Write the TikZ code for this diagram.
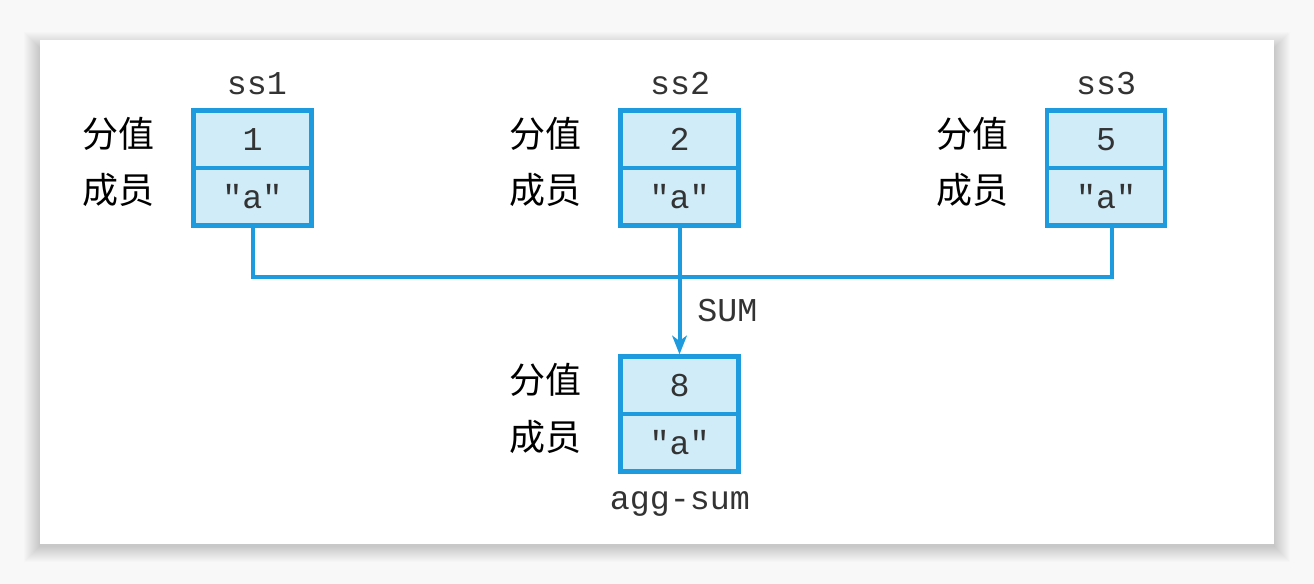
\documentclass[tikz,border=0pt]{standalone}
\usepackage{fontspec}
\setmonofont{Liberation Mono}
\newfontfamily\cjk{Noto Sans CJK SC}
\usetikzlibrary{arrows.meta}
\definecolor{boxblue}{HTML}{1D9BDE}
\definecolor{boxfill}{HTML}{D0ECF9}
\definecolor{txt}{HTML}{333333}
\definecolor{bg}{HTML}{F8F8F8}
\tikzset{
  cell/.style={draw=boxblue, fill=boxfill, line width=3.4pt, minimum width=88.5pt,
    minimum height=43pt, inner sep=0pt, font=\ttfamily\fontsize{25}{25}\selectfont, text=txt},
  lbl/.style={font=\cjk\fontsize{27}{27}\selectfont, text=black, inner sep=0pt},
  nm/.style={font=\ttfamily\fontsize{25}{25}\selectfont, text=txt, inner sep=0pt, anchor=base},
  conn/.style={draw=boxblue, line width=3pt},
  shade layer/.style={fill=black, fill opacity=0.012},
}
\begin{document}
\begin{tikzpicture}[x=0.75pt,y=-0.75pt]
\useasboundingbox (0,0) rectangle (1314,584);
\fill[bg] (0,0) rectangle (1314,584);
\foreach \i in {1,...,16} {
  \fill[shade layer] (40-\i,40-\i+8) rectangle (1274+\i,544+\i+2);
}
\fill[white] (40,40) rectangle (1274,544);

% ss1
\node[cell] (s1t) at (252.5,139.25) {1};
\node[cell] (s1b) at (252.5,196.75) {"a"};
\node[nm] (s1n) at (257,95) {ss1};
\node[lbl] (s1l1) at (118,134) {分值};
\node[lbl] (s1l2) at (118,190) {成员};
% ss2
\node[cell] (s2t) at (679.5,139.25) {2};
\node[cell] (s2b) at (679.5,196.75) {"a"};
\node[nm] (s2n) at (680,95) {ss2};
\node[lbl] (s2l1) at (545,134) {分值};
\node[lbl] (s2l2) at (545,190) {成员};
% ss3
\node[cell] (s3t) at (1106,139.25) {5};
\node[cell] (s3b) at (1106,196.75) {"a"};
\node[nm] (s3n) at (1106,95) {ss3};
\node[lbl] (s3l1) at (972,134) {分值};
\node[lbl] (s3l2) at (972,190) {成员};
% agg
\node[cell] (at) at (679.5,385.25) {8};
\node[cell] (ab) at (679.5,442.75) {"a"};
\node[nm] (an) at (680,509) {agg-sum};
\node[lbl] (al1) at (545,380) {分值};
\node[lbl] (al2) at (545,437) {成员};

\coordinate (bar) at (0,277);
\coordinate (s3c) at ([xshift=4.5pt]s3b.south);
\draw[conn] (s1b.south) -- (s1b.south |- bar) -- (s3c |- bar) -- (s3c);
\draw[conn,-{Stealth[length=14pt,width=11pt,inset=4pt]}] (s2b.south) -- (at.north);
\node[nm, anchor=base west] (sum) at (697,322) {SUM};
\end{tikzpicture}
\end{document}
